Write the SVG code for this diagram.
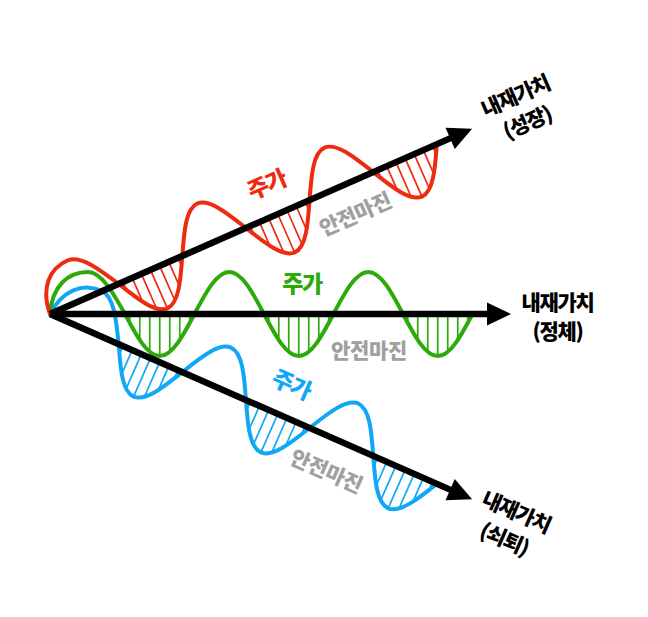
<svg xmlns="http://www.w3.org/2000/svg" xmlns:xlink="http://www.w3.org/1999/xlink" width="648" height="617" viewBox="0 0 648 617">
<style>
.w{fill:none;stroke-width:4;stroke-linejoin:round;stroke-linecap:round}
.h{fill:none;stroke-width:1.7}
.ax{fill:none;stroke:#000;stroke-width:6.5}
.ah{fill:#000}
text{font-family:"Noto Sans CJK KR","Noto Sans",sans-serif;font-weight:900;text-anchor:middle;dominant-baseline:central}
.p{font-size:23px;letter-spacing:-1.5px}
.m{font-size:21px;letter-spacing:-0.3px;fill:#a0a0a0}
.v{font-size:21px;letter-spacing:-1.3px;fill:#000}
.red{stroke:#ee2b10;fill:#ee2b10}
.grn{stroke:#2caa0a;fill:#2caa0a}
.blu{stroke:#10a8f6;fill:#10a8f6}
</style>
<defs>
<path id="wave" d="M0,0 C2,-28 18,-42 38,-42 C51.4,-42 62.9,-21.5 75,0 C86.33,21.52 97.17,42 109.75,42 C122.33,42 133.17,21.52 144.5,0 C155.83,-21.52 166.67,-42 179.25,-42 C191.83,-42 202.67,-21.52 214,0 C225.33,21.52 236.17,42 248.75,42 C261.33,42 272.17,21.52 283.5,0 C294.83,-21.52 305.67,-42 318.25,-42 C330.83,-42 341.67,-21.52 353,0 C364.33,21.52 375.17,42 387.75,42 C400.33,42 411.17,21.52 422.5,0"/>
<path id="hatch" d="M79.75,0V8.9M89.75,0V25.9M99.75,0V37.8M109.75,0V42M119.75,0V37.8M129.75,0V25.9M139.75,0V8.9M218.75,0V8.9M228.75,0V25.9M238.75,0V37.8M248.75,0V42M258.75,0V37.8M268.75,0V25.9M278.75,0V8.9M357.75,0V8.9M367.75,0V25.9M377.75,0V37.8M387.75,0V42M397.75,0V37.8M407.75,0V25.9M417.75,0V8.9"/>
</defs>
<rect width="648" height="617" fill="#fff"/>
<g id="wave-decline" transform="translate(50,314) rotate(23.7)">
<use xlink:href="#hatch" class="h blu"/>
<use xlink:href="#wave" class="w blu" style="fill:none"/>
</g>
<g id="wave-stagnant" transform="translate(50,314)">
<use xlink:href="#hatch" class="h grn"/>
<use xlink:href="#wave" class="w grn" style="fill:none"/>
</g>
<g id="wave-growth" transform="translate(50,314) rotate(-23.7)">
<use xlink:href="#hatch" class="h red"/>
<use xlink:href="#wave" class="w red" style="fill:none"/>
</g>
<g id="connectors">
<g transform="translate(50,314) rotate(-23.7)"><path class="ax" d="M0,0H440"/><polygon class="ah" points="437,-11.5 461,0 437,11.5"/></g>
<g transform="translate(50,314)"><path class="ax" d="M0,0H440"/><polygon class="ah" points="437,-11.5 461,0 437,11.5"/></g>
<g transform="translate(50,314) rotate(23.7)"><path class="ax" d="M0,0H440"/><polygon class="ah" points="437,-11.5 461,0 437,11.5"/></g>
</g>
<g id="label-growth">
<text class="p red" style="stroke:none" transform="translate(266,183) rotate(-23.7)">주가</text>
<text class="m" transform="translate(355,213) rotate(-23.7)">안전마진</text>
<g transform="translate(520.5,107.5) rotate(-23.7)"><text class="v" x="0" y="-14">내재가치</text><text class="v" x="0" y="15">(성장)</text></g>
</g>
<g id="label-stagnant">
<text class="p grn" style="stroke:none" x="302" y="281.5">주가</text>
<text class="m" x="369" y="348.5">안전마진</text>
<g transform="translate(557.5,315)"><text class="v" x="0" y="-14.5">내재가치</text><text class="v" x="0" y="15">(정체)</text></g>
</g>
<g id="label-decline">
<text class="p blu" style="stroke:none" transform="translate(292,383) rotate(23.7)">주가</text>
<text class="m" transform="translate(327,470) rotate(23.7)">안전마진</text>
<g transform="translate(511,524) rotate(23.7)"><text class="v" x="0" y="-14.5">내재가치</text><text class="v" x="0" y="15">(쇠퇴)</text></g>
</g>
</svg>
